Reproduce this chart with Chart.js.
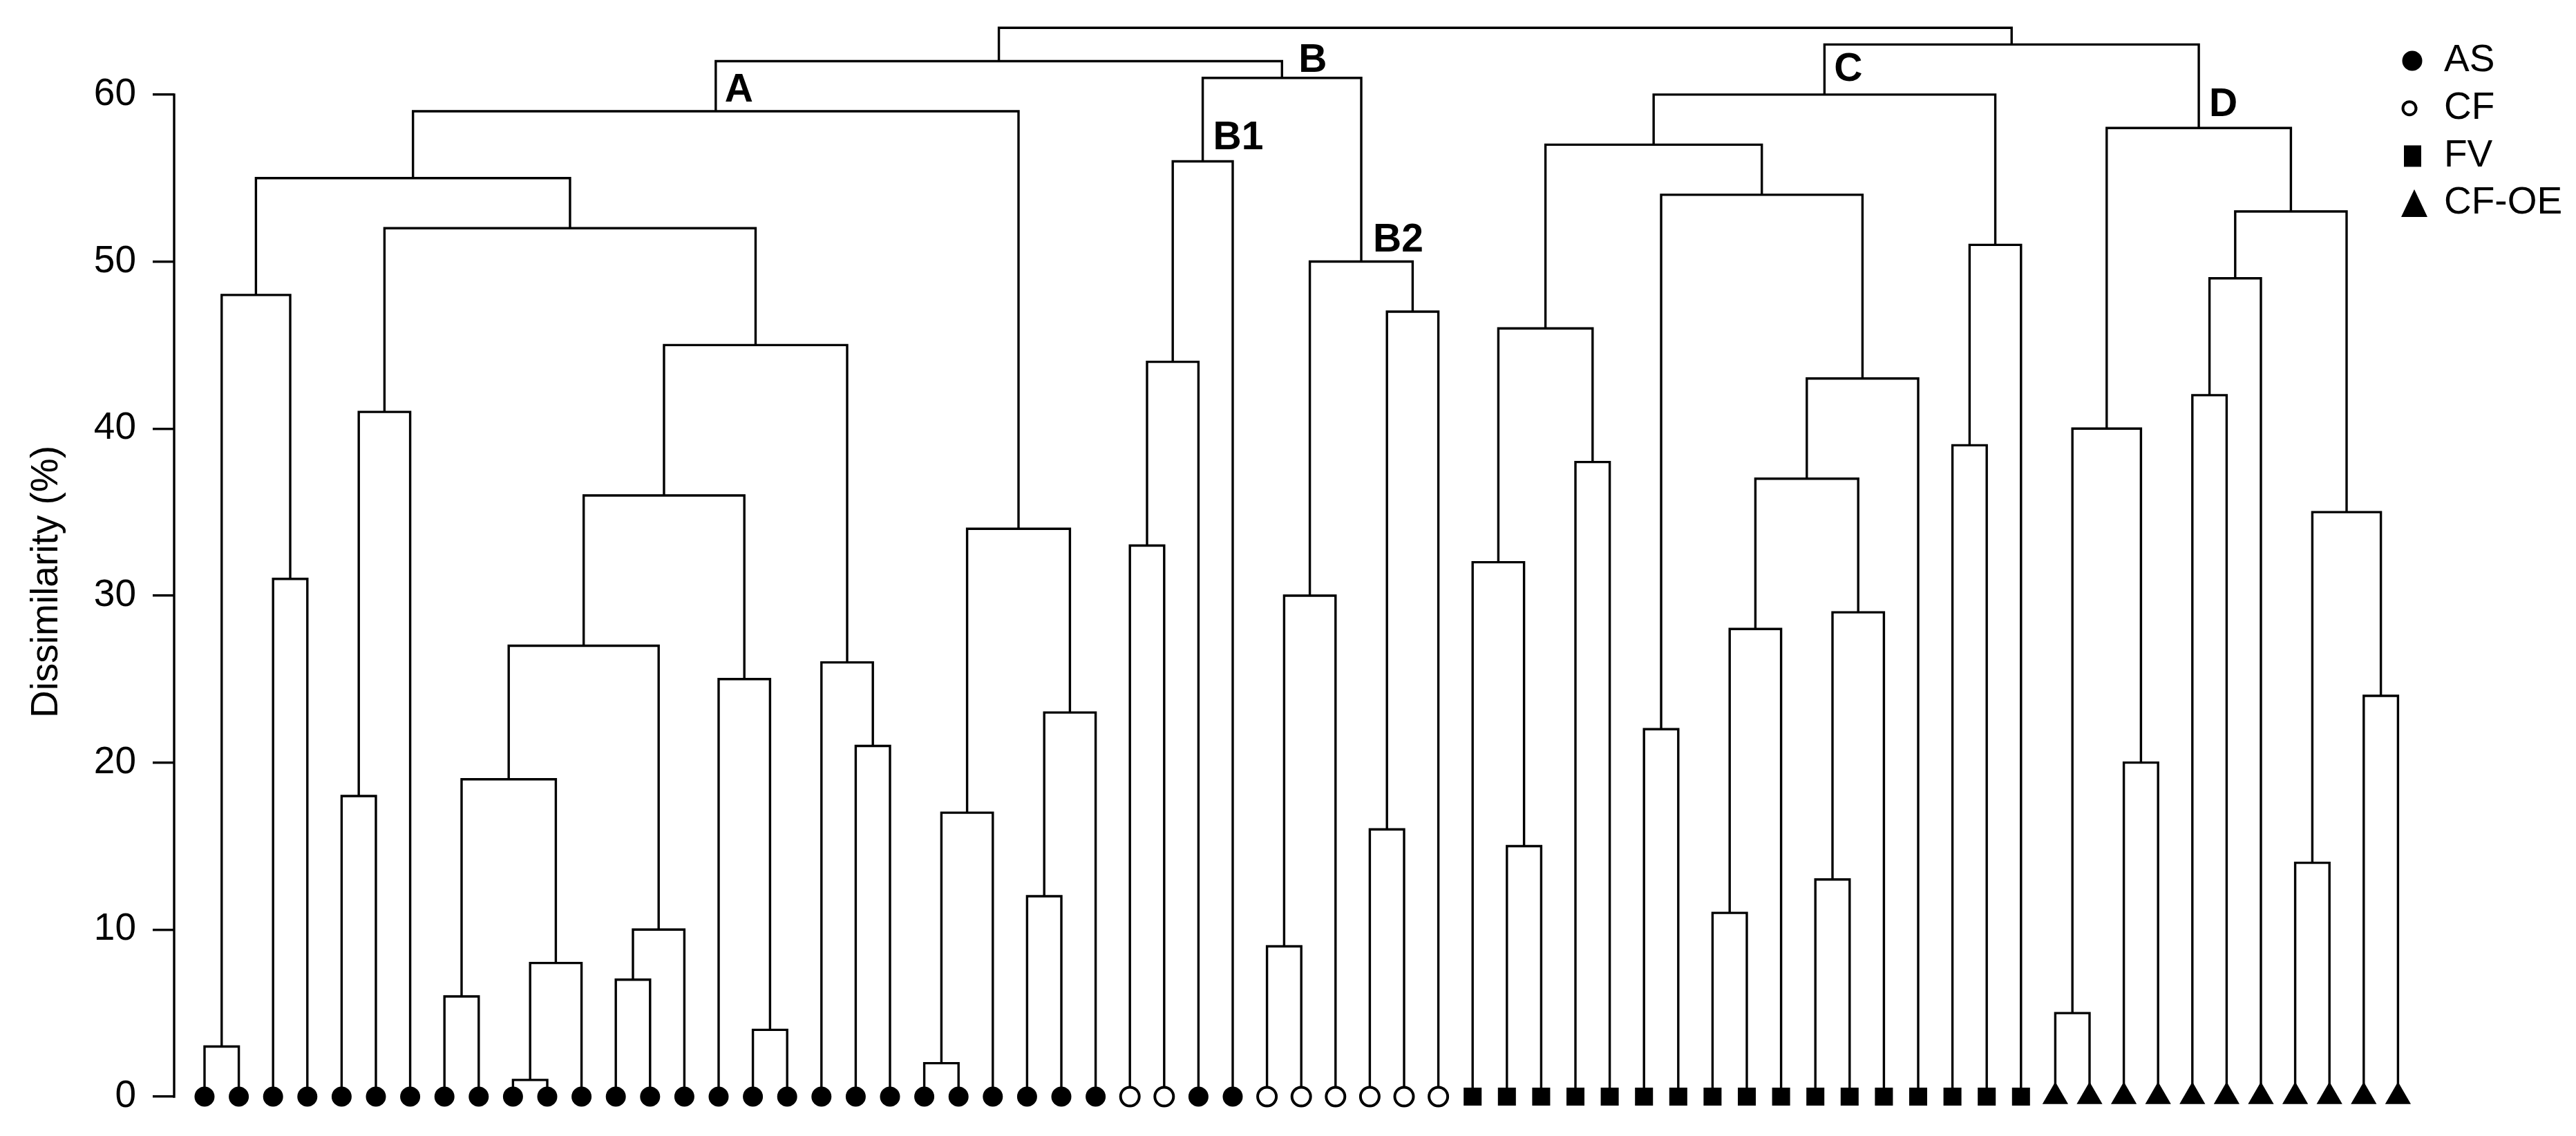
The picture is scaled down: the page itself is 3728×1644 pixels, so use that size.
<!DOCTYPE html>
<html>
<head>
<meta charset="utf-8">
<script src="https://cdn.jsdelivr.net/npm/chart.js@4.4.0/dist/chart.umd.min.js"></script>
<style>
  html, body { margin: 0; padding: 0; background: #fff; }
  #wrap { width: 3728px; height: 1644px; }
</style>
</head>
<body>
<div id="wrap"><canvas id="dendro" width="3728" height="1644"></canvas></div>
<script>
var groups = ['AS', 'CF', 'FV', 'CF-OE'];

// group of each sample, left to right
var leafGroup = [
  'AS','AS','AS','AS','AS','AS','AS','AS','AS','AS','AS','AS','AS','AS',
  'AS','AS','AS','AS','AS','AS','AS','AS','AS','AS','AS','AS','AS',
  'CF','CF','AS','AS','CF','CF','CF','CF','CF','CF',
  'FV','FV','FV','FV','FV','FV','FV','FV','FV','FV','FV','FV','FV','FV','FV','FV','FV',
  'CF-OE','CF-OE','CF-OE','CF-OE','CF-OE','CF-OE','CF-OE','CF-OE','CF-OE','CF-OE','CF-OE'
];

// merges: [left, right, dissimilarity] - numbers are samples, 'mN' is merge N
var merges = [
  [0, 1, 3], [2, 3, 31], ['m0', 'm1', 48], [4, 5, 18], ['m3', 6, 41],
  [7, 8, 6], [9, 10, 1], ['m6', 11, 8], ['m5', 'm7', 19], [12, 13, 7],
  ['m9', 14, 10], ['m8', 'm10', 27], [16, 17, 4], [15, 'm12', 25], ['m11', 'm13', 36],
  [19, 20, 21], [18, 'm15', 26], ['m14', 'm16', 45], ['m4', 'm17', 52], ['m2', 'm18', 55],
  [21, 22, 2], ['m20', 23, 17], [24, 25, 12], ['m22', 26, 23], ['m21', 'm23', 34],
  ['m19', 'm24', 59],
  [27, 28, 33], ['m26', 29, 44], ['m27', 30, 56], [31, 32, 9], ['m29', 33, 30],
  [34, 35, 16], ['m31', 36, 47], ['m30', 'm32', 50], ['m28', 'm33', 61], ['m25', 'm34', 62],
  [38, 39, 15], [37, 'm36', 32], [40, 41, 38], ['m37', 'm38', 46], [42, 43, 22],
  [44, 45, 11], ['m41', 46, 28], [47, 48, 13], ['m43', 49, 29], ['m42', 'm44', 37],
  ['m45', 50, 43], ['m40', 'm46', 54], ['m39', 'm47', 57], [51, 52, 39], ['m49', 53, 51],
  ['m48', 'm50', 60],
  [54, 55, 5], [56, 57, 20], ['m52', 'm53', 40], [58, 59, 42], ['m55', 60, 49],
  [61, 62, 14], [63, 64, 24], ['m57', 'm58', 35], ['m56', 'm59', 53], ['m54', 'm60', 58],
  ['m51', 'm61', 63], ['m35', 'm62', 64]
];

var yTicks = [0, 10, 20, 30, 40, 50, 60];

var clusterNames = ['A', 'B', 'B1', 'B2', 'C', 'D'];
var clusterMerge = [25, 34, 28, 33, 51, 61];

var FONT = "'Liberation Sans', Arial, Helvetica, sans-serif";
var LINE_W = 3.4;

// build the brackets
var nodes = [];
function nodeOf(ref) {
  if (typeof ref === 'number') return { x: ref, y: 0 };
  return nodes[parseInt(ref.slice(1), 10)];
}
var bracketSets = merges.map(function (m, i) {
  var a = nodeOf(m[0]), b = nodeOf(m[1]);
  nodes[i] = { x: (a.x + b.x) / 2, y: m[2] };
  return {
    data: [{ x: a.x, y: a.y }, { x: a.x, y: m[2] }, { x: b.x, y: m[2] }, { x: b.x, y: b.y }],
    showLine: true,
    borderColor: '#000',
    borderWidth: LINE_W,
    borderJoinStyle: 'miter',
    pointRadius: 0,
    fill: false,
    clip: false,
    order: 1
  };
});

var markerStyle = {
  'AS':    { pointStyle: 'circle',   pointRadius: 14.5, pointBackgroundColor: '#000', pointBorderColor: '#000', pointBorderWidth: 0 },
  'CF':    { pointStyle: 'circle',   pointRadius: 13.5, pointBackgroundColor: '#fff', pointBorderColor: '#000', pointBorderWidth: 4 },
  'FV':    { pointStyle: 'rect',     pointRadius: 18.4, pointBackgroundColor: '#000', pointBorderColor: '#000', pointBorderWidth: 0 },
  'CF-OE': { pointStyle: 'triangle', pointRadius: 21.5, pointBackgroundColor: '#000', pointBorderColor: '#000', pointBorderWidth: 0 }
};

var markerSets = groups.map(function (g) {
  var pts = [];
  leafGroup.forEach(function (lg, i) {
    if (lg === g) pts.push({ x: i, y: 0 });
  });
  return Object.assign({ label: g, data: pts, showLine: false, clip: false, order: 0 }, markerStyle[g]);
});

// where each cluster name sits, in px from its node (right, up)
var labelShift = { A: [13, 14], B: [24, 9], B1: [15, 18], B2: [17, 15], C: [14, 20], D: [15, 17] };

var dendroExtras = {
  id: 'dendroExtras',
  afterDraw: function (chart) {
    var ctx = chart.ctx, xs = chart.scales.x, ys = chart.scales.y;
    ctx.save();
    // y axis line, only 0..60
    ctx.strokeStyle = '#000';
    ctx.lineWidth = LINE_W;
    ctx.lineCap = 'square';
    ctx.beginPath();
    ctx.moveTo(chart.chartArea.left, ys.getPixelForValue(yTicks[0]));
    ctx.lineTo(chart.chartArea.left, ys.getPixelForValue(yTicks[yTicks.length - 1]));
    ctx.stroke();

    // cluster labels
    ctx.fillStyle = '#000';
    ctx.font = 'bold 57px ' + FONT;
    ctx.textAlign = 'left';
    ctx.textBaseline = 'alphabetic';
    clusterNames.forEach(function (name, i) {
      var n = nodes[clusterMerge[i]], sh = labelShift[name];
      ctx.fillText(name, xs.getPixelForValue(n.x) + sh[0], ys.getPixelForValue(n.y) - sh[1]);
    });

    // legend
    var lx = 3491, tx = 3537, ly0 = 88, step = 68.7;
    ctx.font = '55px ' + FONT;
    ctx.textBaseline = 'middle';
    groups.forEach(function (g, i) {
      var cy = ly0 + i * step;
      ctx.beginPath();
      if (g === 'AS') {
        ctx.arc(lx, cy, 14.5, 0, Math.PI * 2);
        ctx.fill();
      } else if (g === 'CF') {
        ctx.lineWidth = 4;
        ctx.arc(lx - 4, cy, 9.5, 0, Math.PI * 2);
        ctx.stroke();
      } else if (g === 'FV') {
        ctx.rect(lx - 12, cy - 15, 25, 31);
        ctx.fill();
      } else {
        ctx.moveTo(lx + 3, cy - 20);
        ctx.lineTo(lx + 22, cy + 20);
        ctx.lineTo(lx - 16, cy + 20);
        ctx.closePath();
        ctx.fill();
      }
      ctx.fillText(g, tx, cy);
    });
    ctx.restore();
  }
};

new Chart(document.getElementById('dendro'), {
  type: 'scatter',
  data: { datasets: markerSets.concat(bracketSets) },
  options: {
    responsive: false,
    animation: false,
    devicePixelRatio: 1,
    events: [],
    layout: { padding: { top: 97, bottom: 49, left: 0, right: 208 } },
    plugins: {
      legend: { display: false },
      tooltip: { enabled: false }
    },
    scales: {
      x: { type: 'linear', display: false, min: -0.887, max: 65 },
      y: {
        type: 'linear',
        min: 0,
        max: 61.65,
        afterBuildTicks: function (s) {
          s.ticks = yTicks.map(function (v) { return { value: v }; });
        },
        afterFit: function (s) { s.width = 252; },
        border: { display: false },
        grid: {
          drawOnChartArea: false,
          drawTicks: true,
          tickLength: 31,
          tickWidth: LINE_W,
          tickColor: '#000',
          color: '#000',
          lineWidth: LINE_W
        },
        ticks: {
          color: '#000',
          padding: 24,
          font: { family: FONT, size: 55 }
        },
        title: {
          display: true,
          text: 'Dissimilarity (%)',
          color: '#000',
          font: { family: FONT, size: 55 },
          padding: { top: 35, bottom: 0 }
        }
      }
    }
  },
  plugins: [dendroExtras]
});
</script>
</body>
</html>
